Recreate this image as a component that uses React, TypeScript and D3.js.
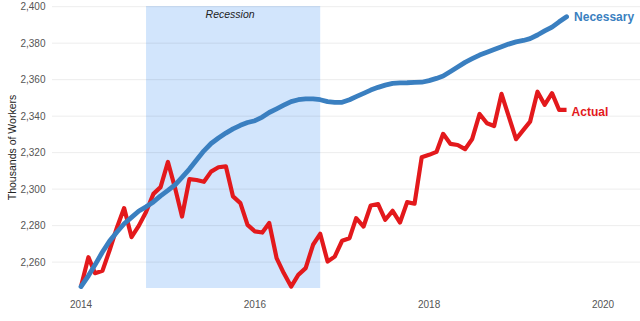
import React from "react";
import * as d3 from "d3";

const startYear = 2014;
const monthCount = 68;
const months: Date[] = Array.from({ length: monthCount }, (_, i) => new Date(startYear, i, 1));

const necessary: number[] = [
  2246.6, 2252.5, 2258.5, 2265.5, 2271.5, 2276.5, 2281.0, 2284.5, 2288.0, 2290.3,
  2293.0, 2296.3, 2299.3, 2302.5, 2306.5, 2311.0, 2316.0, 2321.0, 2325.0, 2328.0,
  2330.7, 2333.0, 2335.0, 2336.5, 2337.5, 2339.5, 2342.0, 2344.0, 2346.0, 2348.0,
  2349.0, 2349.5, 2349.5, 2349.0, 2348.0, 2347.6, 2347.6, 2349.0, 2350.7, 2352.5,
  2354.3, 2355.8, 2357.0, 2358.0, 2358.2, 2358.3, 2358.5, 2358.6, 2359.5, 2360.7,
  2362.0, 2364.5, 2367.0, 2369.5, 2371.5, 2373.5, 2375.0, 2376.5, 2378.0, 2379.5,
  2380.7, 2381.5, 2382.5, 2384.5, 2386.7, 2388.8, 2391.7, 2394.5,
];

const actual: number[] = [
  2246.6, 2262.7, 2253.9, 2255.2, 2266.5, 2279.0, 2289.6, 2273.7, 2280.0, 2287.5,
  2297.4, 2301.1, 2314.9, 2300.0, 2285.0, 2305.5, 2305.0, 2304.0, 2309.6, 2312.0,
  2312.5, 2296.0, 2292.3, 2280.4, 2276.8, 2276.2, 2281.4, 2262.2, 2254.0, 2246.6,
  2253.0, 2256.7, 2269.5, 2275.5, 2260.3, 2263.0, 2271.7, 2273.1, 2284.1, 2279.5,
  2291.0, 2291.8, 2283.2, 2288.1, 2281.7, 2292.9, 2292.0, 2317.5, 2318.8, 2320.4,
  2330.3, 2324.8, 2324.2, 2321.9, 2327.5, 2341.2, 2336.1, 2334.6, 2352.2, 2340.0,
  2327.4, 2332.5, 2337.0, 2353.4, 2346.2, 2352.6, 2343.4, 2343.4,
];

const yTicks: number[] = [2260, 2280, 2300, 2320, 2340, 2360, 2380, 2400];
const xTickYears: number[] = [2014, 2016, 2018, 2020];
const recessionStart = new Date(2014, 9, 1);
const recessionEnd = new Date(2016, 9, 1);
const seriesLabels = { necessary: "Necessary", actual: "Actual" };

const W = 640;
const H = 321;
const panelLeft = 52;
const panelRight = 640;

export default function App() {
  const x = d3
    .scaleTime()
    .domain([new Date(2014, 0, 1), new Date(2020, 0, 1)])
    .range([81, 603]);
  const y = d3.scaleLinear().domain([2245.8, 2400]).range([288, 6.7]);

  const line = d3
    .line<number>()
    .x((_, i) => x(months[i]))
    .y((d) => y(d));

  const fmt = d3.format(",");
  const font = "'Liberation Sans', Arial, sans-serif";
  const last = monthCount - 1;

  return (
    <svg
      width={W}
      height={H}
      style={{ position: "absolute", left: 0, top: 0, background: "#fff" }}
      fontFamily={font}
    >
      <rect
        x={x(recessionStart)}
        y={y(2400) - 0.7}
        width={x(recessionEnd) - x(recessionStart)}
        height={288 - y(2400) + 0.7}
        fill="#d2e5fc"
      />
      {yTicks.map((t) => (
        <line
          key={t}
          x1={panelLeft}
          x2={panelRight}
          y1={y(t)}
          y2={y(t)}
          stroke="rgba(0,0,0,0.075)"
          strokeWidth={1}
        />
      ))}
      {yTicks.map((t) => (
        <text
          key={"l" + t}
          x={45.5}
          y={y(t)}
          dy="0.35em"
          textAnchor="end"
          fontSize={10}
          fill="#555"
        >
          {fmt(t)}
        </text>
      ))}
      {xTickYears.map((yr) => (
        <text
          key={yr}
          x={x(new Date(yr, 0, 1))}
          y={304}
          dy="0.35em"
          textAnchor="middle"
          fontSize={10}
          fill="#555"
        >
          {yr}
        </text>
      ))}
      <text
        transform={`translate(15.5,147.5) rotate(-90)`}
        textAnchor="middle"
        fontSize={10.5}
        fill="#222"
      >
        Thousands of Workers
      </text>
      <text
        x={(x(recessionStart) + x(recessionEnd)) / 2 - 3}
        y={14}
        dy="0.35em"
        textAnchor="middle"
        fontSize={10.5}
        fontStyle="italic"
        fill="#222"
      >
        Recession
      </text>
      <path
        d={line(actual) || ""}
        fill="none"
        stroke="#e3191c"
        strokeWidth={4.2}
        strokeLinejoin="round"
        strokeLinecap="butt"
      />
      <path
        d={line(necessary) || ""}
        fill="none"
        stroke="#3a7fc0"
        strokeWidth={4.8}
        strokeLinejoin="round"
        strokeLinecap="round"
      />
      <text
        x={x(months[last]) + 7.5}
        y={y(necessary[last])}
        dy="0.35em"
        fontSize={12}
        fontWeight="bold"
        fill="#3a7fc0"
      >
        {seriesLabels.necessary}
      </text>
      <text
        x={x(months[last]) + 5}
        y={y(actual[last]) + 1.5}
        dy="0.35em"
        fontSize={12}
        fontWeight="bold"
        fill="#e3191c"
      >
        {seriesLabels.actual}
      </text>
    </svg>
  );
}
